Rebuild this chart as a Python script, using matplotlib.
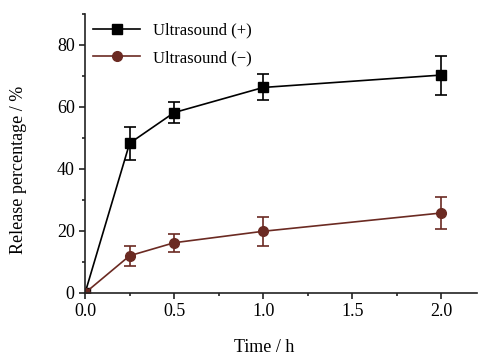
import matplotlib
matplotlib.use("Agg")
import matplotlib.pyplot as plt
from matplotlib.ticker import MultipleLocator
from matplotlib.lines import Line2D

time = [0, 0.25, 0.5, 1.0, 2.0]
us_plus = [0, 48.3, 58.2, 66.3, 70.3]
us_plus_err = [0, 5.4, 3.4, 4.2, 6.3]
us_minus = [0, 12.0, 16.2, 19.9, 25.8]
us_minus_err = [0, 3.2, 2.9, 4.7, 5.3]
labels = ["Ultrasound (+)", "Ultrasound (\u2212)"]

plt.rcParams['font.family'] = ['Liberation Serif', 'DejaVu Serif']
fig = plt.figure(figsize=(4.78, 3.59), dpi=100)
ax = fig.add_axes([0.178, 0.184, 0.82, 0.777])

brown = '#6b2a22'
ax.errorbar(time, us_plus, yerr=us_plus_err, color='black', marker='s', ms=7,
            lw=1.2, capsize=4, elinewidth=1.2, capthick=1.2)
ax.errorbar(time, us_minus, yerr=us_minus_err, color=brown, marker='o', ms=7,
            lw=1.2, capsize=4, elinewidth=1.2, capthick=1.2)

ax.set_xlim(0, 2.2)
ax.set_ylim(0, 90)
ax.set_xticks([0, 0.5, 1.0, 1.5, 2.0])
ax.set_yticks([0, 20, 40, 60, 80])
ax.xaxis.set_minor_locator(MultipleLocator(0.25))
ax.yaxis.set_minor_locator(MultipleLocator(10))
ax.spines['top'].set_visible(False)
ax.spines['right'].set_visible(False)
for s in ['left', 'bottom']:
    ax.spines[s].set_linewidth(1.2)
    ax.spines[s].set_color('#222222')
ax.tick_params(which='major', direction='out', length=4, width=1.2, labelsize=13, color='#222222')
ax.tick_params(which='minor', direction='out', length=2.5, width=1.2, color='#222222')
ax.set_xlabel('Time / h', fontsize=13)
ax.set_ylabel('Release percentage / %', fontsize=13)
ax.xaxis.set_label_coords(0.457, -0.165)
ax.yaxis.set_label_coords(-0.148, 0.44)

handles = [Line2D([], [], color='black', marker='s', ms=7, lw=1.2),
           Line2D([], [], color=brown, marker='o', ms=7, lw=1.2)]
ax.legend(handles, labels, loc='upper left', frameon=False, fontsize=12, handlelength=2.8,
          borderaxespad=0.1, bbox_to_anchor=(0.0, 1.0), labelspacing=0.7)
fig.savefig('out.png', dpi=100)
